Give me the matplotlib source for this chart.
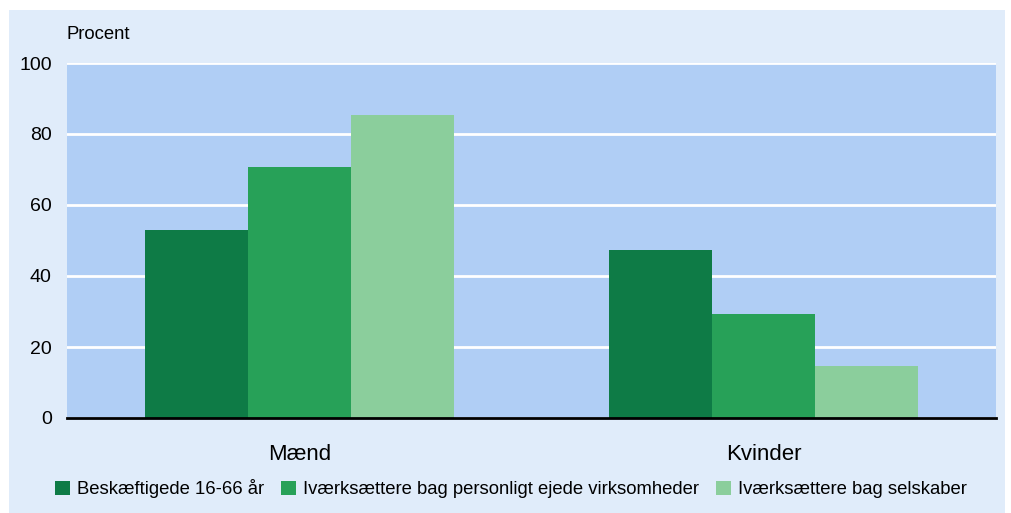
import matplotlib
matplotlib.use("Agg")
import matplotlib.pyplot as plt
from matplotlib.patches import Rectangle
import numpy as np

plt.rcParams['font.family'] = ['Liberation Sans', 'DejaVu Sans']

categories = ["Mænd", "Kvinder"]
series_names = ["Beskæftigede 16-66 år",
                "Iværksættere bag personligt ejede virksomheder",
                "Iværksættere bag selskaber"]
beskaeftigede = [53.0, 47.3]
personligt = [70.7, 29.3]
selskaber = [85.4, 14.6]
yticks = [0, 20, 40, 60, 80, 100]

colors = ["#0E7B46", "#27A158", "#8BCE9C"]
panel_color = "#E0ECFA"
plot_bg = "#B0CEF5"

fig = plt.figure(figsize=(10.11, 5.13), dpi=100)
fig.patch.set_facecolor("white")
fig.patches.append(Rectangle((9/1011, 0), (1005-9)/1011, 1-10/513,
                             transform=fig.transFigure, facecolor=panel_color,
                             edgecolor="none", zorder=-5))

ax = fig.add_axes([67/1011, 1-418/513, (996-67)/1011, (418-63)/513])
ax.set_facecolor(plot_bg)

x = np.arange(len(categories))
w = 0.222
for i, (vals, c, name) in enumerate(zip([beskaeftigede, personligt, selskaber], colors, series_names)):
    ax.bar(x + (i-1)*w, vals, width=w, color=c, label=name, zorder=3, linewidth=0)

ax.set_xlim(-0.5, 1.5)
ax.set_ylim(0, 100)
ax.set_yticks(yticks)
ax.set_yticklabels([str(v) for v in yticks], fontsize=14)
ax.yaxis.grid(True, color="white", linewidth=2, zorder=1)
ax.set_axisbelow(True)
ax.tick_params(axis='y', length=0, pad=11)
ax.tick_params(axis='x', length=0, pad=19, labelsize=16)
ax.set_xticks(x)
ax.set_xticklabels(categories)
for s in ["top", "right", "left"]:
    ax.spines[s].set_visible(False)
ax.spines["bottom"].set_linewidth(2)
ax.spines["bottom"].set_color("black")
ax.spines["bottom"].set_zorder(4)

fig.text(66/1011, 1-35/513, "Procent", fontsize=13.3, ha="left", va="center")

handles, labels = ax.get_legend_handles_labels()
fig.legend(handles, labels, loc="center", bbox_to_anchor=(511/1011, 1-489/513),
           ncol=3, frameon=False, fontsize=13.3, handlelength=0.8, handleheight=0.8,
           handletextpad=0.4, columnspacing=0.9, borderpad=0)

fig.savefig("out.png", dpi=100, facecolor="white")
